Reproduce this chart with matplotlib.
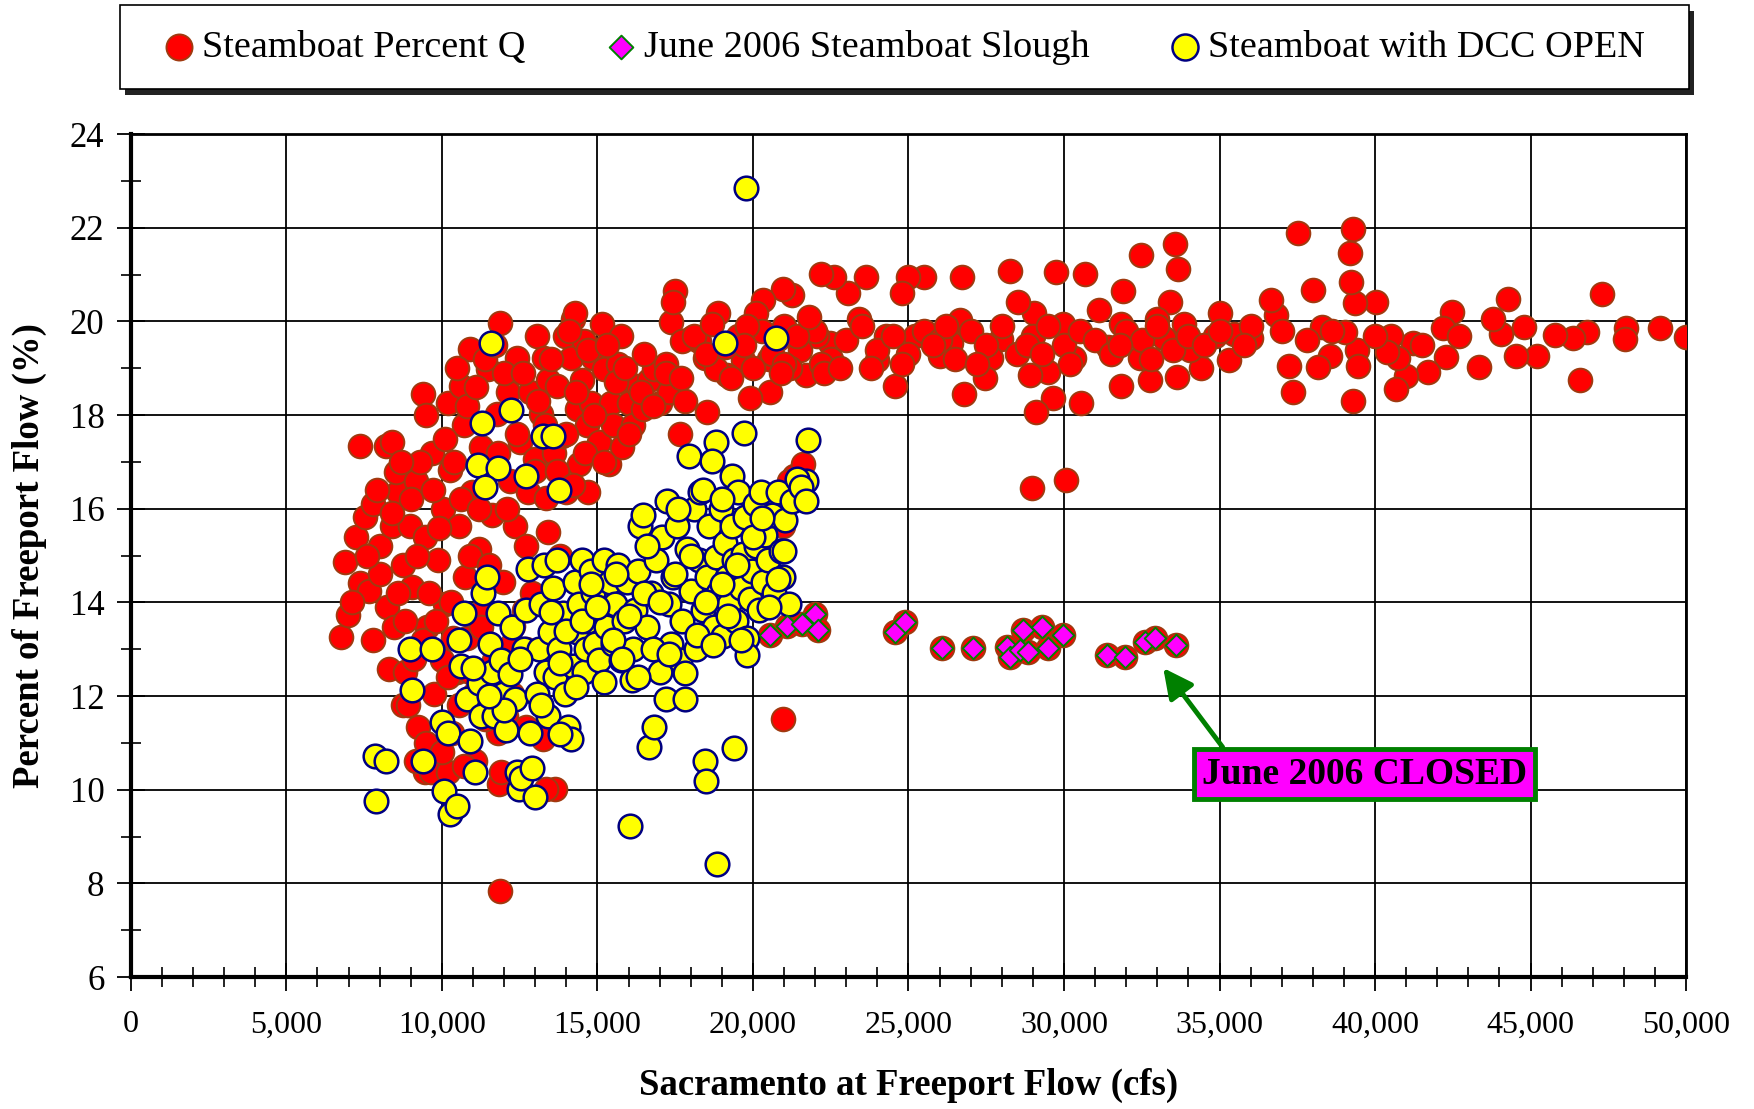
"""
Steamboat Slough percent of Freeport flow - scatter
"""
import matplotlib
matplotlib.use("Agg")
import matplotlib.pyplot as plt
from matplotlib.patches import Rectangle
from matplotlib.ticker import MultipleLocator, FuncFormatter

plt.rcParams["font.family"] = ["Liberation Serif", "DejaVu Serif"]

# Steamboat Percent Q (points that are not in the June 2006 set)
red_x = [
    50000, 49170, 48060, 48030, 46800, 46580, 46360, 45790, 47300, 45210,
    44780, 44530, 44280, 44060, 43780, 43340, 42480, 42270, 42200, 41690,
    41220, 41010, 40750, 40680, 40500, 40390, 40030, 39420, 39350, 39280,
    39240, 39210, 39280, 39460, 39020, 38560, 38020, 37510, 38310, 38160,
    37370, 37230, 36800, 36660, 36010, 35470, 35290, 35030, 34860, 34390,
    34060, 33850, 33560, 33670, 33630, 33200, 33420, 32980, 32770, 32480,
    32450, 31900, 31830, 31830, 31400, 31110, 30680, 30540, 30320, 29960,
    29750, 29640, 29500, 29100, 29030, 28920, 28960, 30070, 28520, 28270,
    27990, 27660, 27450, 26800, 26730, 26660, 26370, 26010, 25500, 25210,
    25000, 24780, 24570, 24280, 23990, 23630, 23420, 23060, 22590, 22480,
    22190, 22050, 21690, 21260, 20970, 20790, 20540, 20320, 20110, 19890,
    19680, 19530, 19170, 18880, 18520, 18270, 18020, 17660, 17370, 17480,
    # dense band 19-20 %
    21000, 21500, 22000, 22500, 23000, 23500, 24000, 24500, 25000, 25500,
    26000, 26500, 27000, 27500, 28000, 28500, 29000, 29500, 30000, 30500,
    31000, 31500, 32000, 32500, 33000, 33500, 34000, 34500, 35000, 20500,
    21200, 22200, 23800, 26200, 28800, 30200, 31800, 27200, 24800, 29300,
    32800, 25800, 36000, 37800, 38600, 40000, 41500, 42700, 35800, 37000,
    20300, 20600, 21000, 21400, 21800, 22300, 20000, 19800, 20900, 22800,
    # low-flow cluster
    6760, 6870, 6980, 7230, 7370, 7370, 7520, 7660, 7800, 7800,
    8020, 8200, 8230, 8380, 8380, 8450, 8600, 8530, 8740, 8310,
    8810, 8960, 9030, 9170, 9240, 9390, 9460, 9530, 9680, 9750,
    9460, 9890, 10040, 10110, 10180, 10250, 10320, 10470, 10540, 10610,
    10720, 10750, 10820, 10900, 10970, 11040, 11080, 11190, 11260, 11330,
    11470, 11620, 11690, 11760, 11830, 11870, 11980, 12050, 12120, 12190,
    12260, 12340, 12410, 12520, 12630, 12700, 12770, 12840, 12990, 13060,
    13240, 13200, 13270, 13350, 13420, 13600, 13630, 13700, 13850, 13960,
    13990, 14140, 14210, 14280, 14350, 14420, 14500, 14570, 14680, 14710,
    14780, 14860, 15040, 15140, 15220, 15360, 15430, 15510, 15650, 15760,
    15790, 15930, 16010, 16150, 16290, 16470, 16650, 16830, 17010, 17190,
    17300, 17440, 17730, 17800, 18090, 18450, 18670, 18810, 19100,
    10000, 10360, 10540, 10900, 11260, 11550, 11800, 11910, 12260, 12700,
    11870, 20970, 21330, 21620, 21150, 20970, 8740, 9170, 9640, 10180,
    13350,
    9200, 9600, 9900, 10300, 10600, 10900, 11200, 11500, 11800, 12100,
    12400, 12700, 13000, 13300, 13700, 14000, 14300, 14600, 14900, 15200,
    15600, 16000, 16400, 16800, 17200, 8800, 9100, 9400, 9800, 10200,
    8600, 9000, 9300, 9700, 10100, 10400, 10800, 11100, 11400, 12000,
    12600, 13100, 13500, 14100, 14700, 15300, 15900, 8000, 8400, 7600,
    7100, 8900, 9500, 10000, 10700, 11400, 12300, 12900, 13400, 13800,
    14200, 7900, 8700, 9500, 10500, 11700, 16500, 17700, 18500, 19300,
    19700,
]
red_y = [
    19.67, 19.86, 19.86, 19.62, 19.77, 18.74, 19.65, 19.72, 20.58, 19.27,
    19.89, 19.27, 20.49, 19.74, 20.05, 19.03, 20.20, 19.24, 19.86, 18.93,
    19.55, 18.83, 19.22, 18.55, 19.69, 19.34, 20.41, 19.40, 20.39, 21.97,
    20.84, 21.47, 18.31, 19.05, 19.77, 19.27, 20.67, 21.90, 19.89, 19.03,
    18.50, 19.05, 20.13, 20.46, 19.65, 19.74, 19.17, 20.18, 19.69, 19.00,
    19.39, 19.94, 21.66, 21.13, 18.81, 19.65, 20.41, 20.06, 18.74, 21.42,
    19.22, 20.65, 18.62, 19.94, 19.46, 20.25, 21.01, 18.26, 19.22, 19.94,
    21.06, 18.36, 18.93, 18.07, 20.18, 18.86, 16.45, 16.61, 20.41, 21.08,
    19.62, 19.22, 18.79, 18.45, 20.94, 20.03, 19.55, 19.27, 20.94, 19.69,
    20.94, 20.60, 18.62, 19.69, 19.17, 20.94, 20.05, 20.60, 20.94, 19.55,
    21.01, 19.69, 18.86, 20.56, 20.70, 19.62, 18.50, 20.46, 20.18, 18.36,
    19.17, 19.69, 18.86, 20.18, 18.07, 19.58, 19.65, 17.60, 19.98, 20.65,
    19.9, 19.4, 19.8, 19.2, 19.6, 19.9, 19.4, 19.7, 19.3, 19.8,
    19.6, 19.2, 19.8, 19.5, 19.9, 19.3, 19.7, 19.9, 19.5, 19.8,
    19.6, 19.3, 19.8, 19.6, 19.9, 19.4, 19.7, 19.5, 19.8, 19.2,
    19.0, 19.1, 19.0, 19.9, 19.5, 19.1, 19.5, 19.1, 19.1, 19.3,
    19.2, 19.5, 19.9, 19.6, 19.8, 19.7, 19.5, 19.7, 19.5, 19.8,
    19.8, 19.3, 19.1, 19.7, 20.1, 18.9, 19.0, 19.9, 18.9, 19.0,
    13.26, 14.87, 13.74, 15.39, 17.35, 14.41, 15.82, 14.24, 16.11, 13.19,
    15.20, 17.35, 13.90, 17.42, 15.63, 13.48, 16.35, 16.78, 14.79, 12.57,
    12.52, 15.63, 14.32, 16.59, 11.33, 18.45, 15.39, 13.48, 17.19, 12.05,
    10.37, 14.91, 16.00, 13.96, 18.26, 16.83, 11.21, 12.52, 15.63, 18.62,
    17.78, 14.55, 13.24, 19.41, 16.35, 12.05, 10.61, 15.15, 17.31, 13.84,
    18.98, 15.87, 12.76, 18.02, 10.13, 19.96, 14.43, 11.57, 18.50, 16.59,
    13.12, 15.63, 19.22, 17.42, 13.84, 11.33, 16.35, 18.50, 17.07, 19.70,
    11.09, 18.02, 19.22, 16.23, 18.74, 17.19, 10.01, 18.62, 17.55, 19.70,
    16.35, 19.22, 20.06, 20.18, 18.14, 16.95, 18.74, 19.58, 17.78, 16.35,
    18.26, 19.22, 17.42, 19.94, 18.98, 16.95, 18.26, 17.78, 19.10, 19.70,
    17.31, 18.74, 18.26, 17.78, 18.62, 18.14, 18.74, 18.98, 18.26, 19.10,
    18.50, 20.41, 19.58, 18.31, 19.69, 19.22, 19.94, 18.98, 19.46,
    12.76, 13.24, 11.81, 12.52, 13.48, 12.28, 11.21, 10.37, 12.05, 13.00,
    7.84, 11.52, 16.71, 16.95, 16.59, 15.63, 11.81, 10.61, 10.37, 10.37,
    10.01,
    15.0, 14.2, 15.6, 14.0, 16.2, 15.0, 16.0, 14.8, 17.2, 16.0,
    17.6, 15.2, 16.8, 17.8, 16.8, 17.6, 18.5, 17.2, 18.0, 17.0,
    18.7, 17.6, 18.5, 18.2, 18.9, 13.6, 12.8, 13.2, 13.6, 12.4,
    14.2, 16.2, 17.0, 16.4, 17.5, 17.0, 18.2, 18.6, 19.2, 18.9,
    18.9, 18.3, 19.2, 19.8, 19.4, 19.5, 19.0, 14.6, 15.9, 15.0,
    14.0, 11.8, 11.0, 10.8, 10.5, 11.5, 13.5, 14.2, 15.5, 15.0,
    16.5, 16.4, 17.0, 18.0, 19.0, 19.5, 19.3, 18.8, 19.3, 18.8,
    19.5,
]

# June 2006 Steamboat Slough (DCC closed)
june_x = [20545, 21085, 21566, 21995, 22100, 24566, 24887, 26087, 27083, 28156,
          28263, 28585, 28853, 28692, 29283, 29495, 29977, 31372, 31964, 32603,
          32925, 33600]
june_y = [13.30, 13.50, 13.55, 13.75, 13.42, 13.37, 13.59, 13.02, 13.03, 13.05,
          12.84, 12.98, 12.95, 13.41, 13.48, 13.02, 13.30, 12.88, 12.84, 13.16,
          13.23, 13.09]

# Steamboat with DCC OPEN
dcc_x = [
    19780, 11580, 12230, 20750, 19100, 11290, 13240, 12700, 13560, 19710,
    21760, 18810, 21690, 19320, 13780, 11150, 11800, 11370,
    7840, 7880, 8200, 9390, 8960, 9030, 9680, 10000, 10070, 10250,
    10470, 10180, 10540, 10610, 10720, 10820, 10900, 11080, 11190, 11260,
    11330, 11440, 11550, 11620, 11690, 11800, 11910, 11980, 12050, 12190,
    12260, 12340, 12410, 12480, 12550, 12630, 12700, 12770, 12840, 12910,
    12990, 13060, 13130, 13200, 13270, 13350, 13420, 13490, 13560, 13630,
    13700, 13780, 13890, 13960, 14060, 14140, 14210, 14280, 14350, 14420,
    14500, 14570, 14640, 14710, 14780, 14860, 14930, 15040, 15140, 15220,
    15290, 15400, 15510, 15580, 15650, 15760, 15870, 15940, 16040, 16110,
    16150, 16220, 16290, 16370, 16470, 16580, 16650, 16720, 16830, 16870,
    17010, 17080, 17190, 17230, 17300, 17370, 17440, 17550, 17660, 17730,
    17800, 17870, 17950, 18020, 18090, 18160, 18270, 18310, 18380, 18450,
    18490, 18520, 18600, 18670, 18740, 18810, 18850, 18880, 18960, 19030,
    19100, 19170, 19240, 19320, 19390, 19390, 19460, 19530, 19600, 19680,
    19750, 19820, 19820, 19890, 19960, 20070, 20110, 20180, 20250, 20320,
    20400, 20470, 20610, 20680, 20790, 20900, 20970, 21040, 21150, 21260,
    21400, 21550, 21690,
    13500, 14000, 14500, 15000, 15500, 16000, 16500, 17000, 17500, 18000,
    18500, 19000, 19500, 20000, 15200, 15800, 16300, 16800, 17300, 17800,
    18200, 18700, 19200, 14300, 13800, 16600, 17600, 18400, 19000, 20300,
    20800, 21000, 14800, 15600, 12500, 12000, 11500, 11000, 13200, 13800,
    20500, 19600,
]
dcc_y = [
    22.85, 19.53, 18.12, 19.65, 19.53, 17.83, 17.55, 16.71, 17.55, 17.62,
    17.47, 17.42, 16.59, 16.71, 16.40, 16.93, 16.88, 16.47,
    10.73, 9.75, 10.61, 10.61, 13.00, 12.12, 13.00, 11.45, 9.97, 9.49,
    9.66, 11.21, 13.19, 12.64, 13.77, 11.93, 11.04, 10.37, 12.28, 11.57,
    14.20, 14.55, 13.12, 12.52, 11.57, 13.77, 12.76, 12.05, 11.28, 12.47,
    13.48, 11.93, 10.37, 10.01, 10.25, 13.00, 13.84, 14.72, 11.21, 10.47,
    9.85, 12.05, 13.00, 13.96, 14.79, 12.52, 11.57, 13.36, 14.31, 12.40,
    14.91, 13.00, 13.77, 12.05, 11.33, 11.09, 12.64, 14.43, 13.36, 13.96,
    14.91, 12.52, 13.00, 13.60, 14.67, 14.20, 13.12, 12.76, 13.84, 14.91,
    13.48, 14.43, 13.12, 13.96, 14.79, 12.76, 13.60, 14.43, 9.22, 12.35,
    13.00, 13.84, 14.67, 15.63, 15.87, 13.48, 10.92, 14.20, 11.33, 14.91,
    12.52, 15.39, 11.93, 16.16, 13.96, 13.12, 14.55, 15.63, 12.76, 13.60,
    11.93, 15.15, 17.12, 14.24, 15.99, 13.00, 14.91, 16.35, 13.84, 10.61,
    10.18, 14.55, 15.63, 17.02, 13.48, 14.96, 8.41, 14.20, 15.99, 13.29,
    15.27, 14.55, 13.96, 15.63, 10.90, 14.91, 13.60, 16.35, 14.31, 15.03,
    15.82, 13.24, 12.88, 14.07, 14.67, 16.11, 15.20, 13.84, 16.35, 14.43,
    15.44, 14.91, 15.87, 14.20, 16.35, 15.10, 14.55, 15.75, 13.96, 16.16,
    16.64, 16.47, 16.16,
    13.8, 13.4, 13.6, 13.9, 13.2, 13.7, 14.2, 14.0, 14.6, 15.0,
    14.0, 14.4, 14.8, 15.4, 12.3, 12.8, 12.4, 13.0, 12.9, 12.5,
    13.3, 13.1, 13.7, 12.2, 12.7, 15.2, 16.0, 16.4, 16.2, 15.8,
    14.5, 15.1, 14.4, 14.6, 12.8, 11.7, 12.0, 12.6, 11.8, 11.2,
    13.9, 13.2,
]

fig = plt.figure(figsize=(17.54, 11.09), dpi=100)
ax = fig.add_axes([0.0746, 0.119, 0.8867, 0.760])

# red series includes the June 2006 days, diamonds are drawn on top
ax.scatter(red_x + june_x, red_y + june_y, s=290, c="#ff0000",
           edgecolors="#a03a10", linewidths=1.4, zorder=3,
           label="Steamboat Percent Q")
ax.scatter(dcc_x, dcc_y, s=290, c="#ffff00", edgecolors="#000080",
           linewidths=1.8, zorder=4, label="Steamboat with DCC OPEN")
ax.scatter(june_x, june_y, s=120, marker="D", c="#ff00ff",
           edgecolors="#008000", linewidths=1.4, zorder=5,
           label="June 2006 Steamboat Slough")

ax.set_xlim(0, 50000)
ax.set_ylim(6, 24)
ax.xaxis.set_major_locator(MultipleLocator(5000))
ax.xaxis.set_minor_locator(MultipleLocator(1000))
ax.yaxis.set_major_locator(MultipleLocator(2))
ax.yaxis.set_minor_locator(MultipleLocator(1))
ax.xaxis.set_major_formatter(FuncFormatter(lambda v, p: f"{int(v):,}"))
ax.grid(True, which="major", color="black", linewidth=1.3, zorder=0)
ax.set_axisbelow(True)

ax.tick_params(which="major", direction="inout", length=20, width=1.3,
               colors="black")
ax.tick_params(axis="y", which="major", pad=9, labelsize=25)
ax.tick_params(axis="x", which="major", pad=14, labelsize=23)
ax.tick_params(which="minor", direction="inout", length=15, width=1.2)
for side in ["left", "bottom"]:
    ax.spines[side].set_linewidth(3)
for side in ["top", "right"]:
    ax.spines[side].set_linewidth(2)

ax.set_xlabel("Sacramento at Freeport Flow (cfs)", fontsize=26.5,
              fontweight="bold")
ax.set_ylabel("Percent of Freeport Flow (%)", fontsize=26.5,
              fontweight="bold")
ax.xaxis.set_label_coords(0.5, -0.108)
ax.yaxis.set_label_coords(-0.054, 0.5)

# annotation for the closed gates
ax.text(39660, 10.33, "June 2006 CLOSED", fontsize=27, fontweight="bold",
        ha="center", va="center", zorder=6,
        bbox=dict(boxstyle="square,pad=0.2", fc="#ff00ff", ec="#008000",
                  lw=3.5))
ax.annotate("", xy=(33190, 12.6), xytext=(35100, 10.91),
            arrowprops=dict(arrowstyle="-|>,head_width=0.45,head_length=0.9",
                            color="#008000", lw=3.5, shrinkA=0, shrinkB=0,
                            mutation_scale=20),
            zorder=6)

# legend box across the top, with a solid drop shadow
fig.patches.append(Rectangle((0.0711, 0.9145), 0.8947, 0.0757,
                             transform=fig.transFigure, fc="#222222",
                             ec="none", zorder=0))
fig.patches.append(Rectangle((0.0683, 0.9195), 0.8947, 0.0757,
                             transform=fig.transFigure, fc="white",
                             ec="black", lw=1.2, zorder=1))
handles, labels = ax.get_legend_handles_labels()
order = [0, 2, 1]
leg = fig.legend([handles[i] for i in order], [labels[i] for i in order],
                 loc="center", bbox_to_anchor=(0.0955, 0.925, 0.842, 0.064),
                 mode="expand", ncol=3, fontsize=27.5, frameon=False,
                 handlelength=0.6, handletextpad=0.3, borderpad=0,
                 borderaxespad=0, markerscale=1.1)

plt.savefig("out.png", dpi=100)
